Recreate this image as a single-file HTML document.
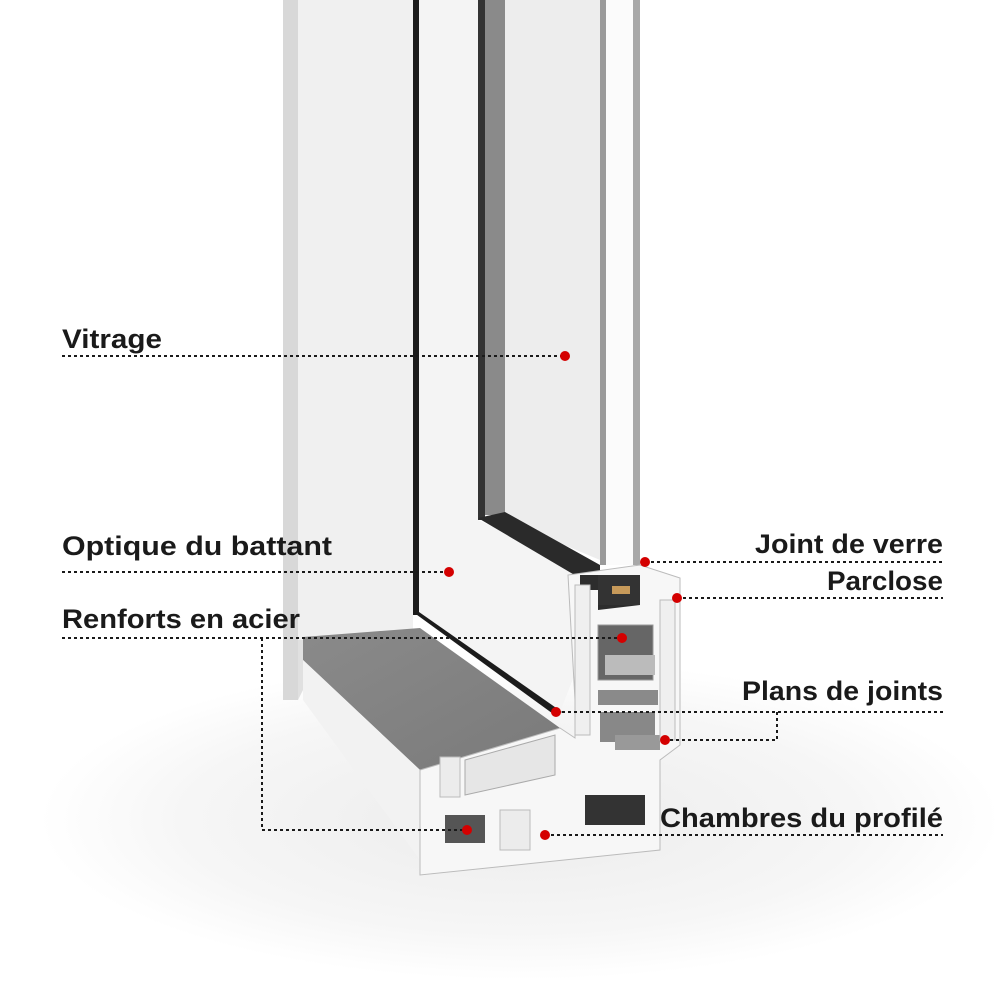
<!DOCTYPE html>
<html><head><meta charset="utf-8"><style>
html,body{margin:0;padding:0;background:#fff;}
svg{display:block;}
text{font-family:"Liberation Sans",sans-serif;font-weight:bold;font-size:27px;fill:#1a1a1a;}
</style></head><body>
<svg width="1000" height="1000" viewBox="0 0 1000 1000" xmlns="http://www.w3.org/2000/svg">
<defs>
<radialGradient id="sh" cx="0.5" cy="0.5" r="0.5">
<stop offset="0" stop-color="#ececec"/><stop offset="0.7" stop-color="#f6f6f6"/><stop offset="1" stop-color="#fff"/>
</radialGradient>
<linearGradient id="sill" x1="0" y1="0" x2="1" y2="1">
<stop offset="0" stop-color="#8a8a8a"/><stop offset="1" stop-color="#7a7a7a"/>
</linearGradient>
</defs>
<rect width="1000" height="1000" fill="#fff"/>
<ellipse cx="520" cy="820" rx="480" ry="160" fill="url(#sh)"/>
<rect x="283" y="0" width="15" height="700" fill="#d8d8d8"/>
<rect x="298" y="0" width="115" height="640" fill="#f0f0f0"/>
<polygon points="298,640 303,640 303,690 298,700" fill="#e0e0e0"/>
<polygon points="419,0 478,0 478,520 600,575 600,610 560,712 419,612" fill="#f4f4f4"/>
<polygon points="505,0 600,0 600,560 505,520" fill="#ededed"/>
<rect x="413" y="0" width="6" height="615" fill="#1c1c1c"/>
<polygon points="413,612 419,612 562,712 556,716" fill="#1c1c1c"/>
<rect x="478" y="0" width="7" height="520" fill="#333"/>
<rect x="485" y="0" width="20" height="515" fill="#8a8a8a"/>
<polygon points="478,518 505,512 600,565 600,590" fill="#2a2a2a"/>
<rect x="600" y="0" width="6" height="565" fill="#9a9a9a"/>
<rect x="606" y="0" width="27" height="565" fill="#fbfbfb"/>
<rect x="633" y="0" width="7" height="565" fill="#a8a8a8"/>
<polygon points="303,637 420,628 560,728 420,770 303,660" fill="url(#sill)"/>
<polygon points="303,660 420,770 420,860 303,700" fill="#f2f2f2"/>
<polygon points="420,770 560,728 575,738 575,700 568,575 640,565 680,578 680,745 660,760 660,850 420,875" fill="#f7f7f7" stroke="#bbb" stroke-width="1"/>
<polygon points="580,575 598,575 598,610 640,605 640,590 580,590" fill="#2d2d2d"/>
<rect x="598" y="575" width="42" height="30" fill="#333"/>
<rect x="612" y="586" width="18" height="8" fill="#c79a5a"/>
<rect x="598" y="625" width="55" height="55" fill="#666" stroke="#999"/>
<rect x="605" y="655" width="50" height="20" fill="#bbb"/>
<rect x="598" y="690" width="60" height="15" fill="#8a8a8a"/>
<rect x="600" y="712" width="55" height="30" fill="#888"/>
<rect x="615" y="735" width="45" height="15" fill="#999"/>
<rect x="440" y="757" width="20" height="40" fill="#ececec" stroke="#bbb"/>
<polygon points="465,760 555,735 555,775 465,795" fill="#e6e6e6" stroke="#aaa"/>
<rect x="445" y="815" width="40" height="28" fill="#555"/>
<rect x="585" y="795" width="60" height="30" fill="#333"/>
<rect x="500" y="810" width="30" height="40" fill="#ececec" stroke="#bbb"/>
<rect x="575" y="585" width="15" height="150" fill="#efefef" stroke="#bbb"/>
<rect x="660" y="600" width="15" height="140" fill="#efefef" stroke="#bbb"/>
<g stroke="#1a1a1a" stroke-width="2" stroke-dasharray="3,3" fill="none">
<line x1="62" y1="356" x2="565" y2="356"/>
<line x1="62" y1="572" x2="449" y2="572"/>
<line x1="62" y1="638" x2="622" y2="638"/>
<polyline points="262,638 262,830 467,830"/>
<line x1="645" y1="562" x2="943" y2="562"/>
<line x1="677" y1="598" x2="943" y2="598"/>
<line x1="556" y1="712" x2="943" y2="712"/>
<polyline points="777,712 777,740 665,740"/>
<line x1="545" y1="835" x2="943" y2="835"/>
</g>
<g fill="#d40000">
<circle cx="565" cy="356" r="5"/><circle cx="449" cy="572" r="5"/><circle cx="622" cy="638" r="5"/>
<circle cx="467" cy="830" r="5"/><circle cx="645" cy="562" r="5"/><circle cx="677" cy="598" r="5"/>
<circle cx="556" cy="712" r="5"/><circle cx="665" cy="740" r="5"/><circle cx="545" cy="835" r="5"/>
</g>
<text x="62" y="348" textLength="100" lengthAdjust="spacingAndGlyphs">Vitrage</text>
<text x="62" y="555" textLength="270" lengthAdjust="spacingAndGlyphs">Optique du battant</text>
<text x="62" y="628" textLength="238" lengthAdjust="spacingAndGlyphs">Renforts en acier</text>
<text x="755" y="553" textLength="188" lengthAdjust="spacingAndGlyphs">Joint de verre</text>
<text x="827" y="590" textLength="116" lengthAdjust="spacingAndGlyphs">Parclose</text>
<text x="742" y="700" textLength="201" lengthAdjust="spacingAndGlyphs">Plans de joints</text>
<text x="660" y="827" textLength="283" lengthAdjust="spacingAndGlyphs">Chambres du profilé</text>
</svg>
</body></html>
